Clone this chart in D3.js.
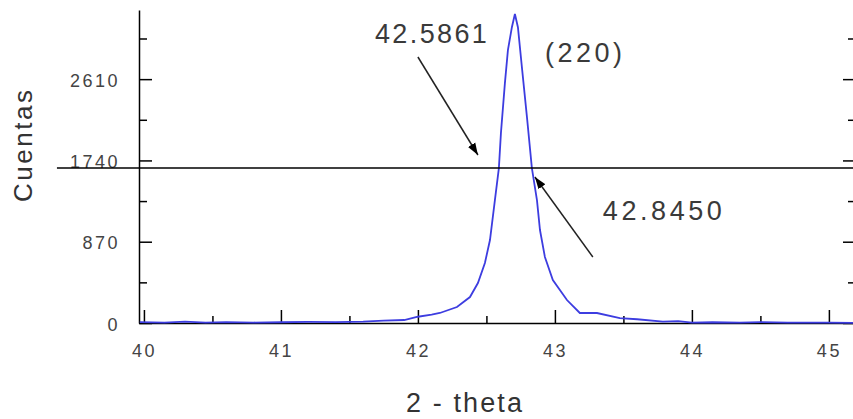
<!DOCTYPE html>
<html lang="es">
<head>
    <meta charset="UTF-8">
    <title>Pico (220) - FWHM</title>
    <script src="https://d3js.org/d3.v7.min.js"></script>
    <style>
        body {
            margin: 0;
            background: #fff;
            font-family: "Liberation Sans", Arial, sans-serif;
        }
        .tick text {
            fill: #444;
            font-size: 18px;
            letter-spacing: 2.5px;
        }
        .axis path, .axis line {
            stroke: #000;
            stroke-width: 1.5px;
        }
        .note {
            fill: #3a3a3a;
            font-size: 27px;
        }
    </style>
</head>
<body>
    <svg id="chart" width="853" height="419"></svg>
    <script>
        // difractograma alrededor del pico (220)
        const twoTheta = [39.97, 40.15, 40.3, 40.45, 40.6, 40.8, 41.0, 41.2, 41.4, 41.6, 41.75, 41.9,
            42.0, 42.1, 42.16, 42.285, 42.38, 42.438, 42.489, 42.526, 42.562, 42.591, 42.606,
            42.635, 42.657, 42.686, 42.708, 42.73, 42.759, 42.796, 42.832, 42.869, 42.891,
            42.927, 42.985, 43.088, 43.182, 43.307, 43.474, 43.6, 43.788, 43.9, 44.0, 44.15,
            44.35, 44.5, 44.7, 45.0, 45.2];
        const counts = [10, 5, 15, 5, 10, 5, 8, 12, 10, 15, 25, 32,
            67, 90, 107, 171, 278, 428, 642, 888, 1316, 1658, 2032,
            2567, 2920, 3166, 3307, 3166, 2738, 2203, 1658, 1316, 995,
            706, 460, 246, 107, 107, 53, 40, 15, 20, 5, 8,
            5, 10, 3, 5, 2];

        const yTicks = [0, 870, 1740, 2610];
        const yMinor = [435, 1305, 2175, 3045];
        const xTicks = [40, 41, 42, 43, 44, 45];
        const xMinor = [40.5, 41.5, 42.5, 43.5, 44.5];

        const halfMax = 1659;
        const leftWidth = 42.5861;
        const rightWidth = 42.8450;
        const peakLabel = "(220)";

        const svg = d3.select("#chart");
        const padL = 139, padB = 323, padT = 10, padR = 856;

        const x = d3.scaleLinear().domain([39.964, 45.176]).range([padL, 853]);
        const y = d3.scaleLinear().domain([0, 3350]).range([padB, padT]);

        // ejes
        svg.append("g").attr("class", "axis")
            .attr("transform", `translate(${padL},0)`)
            .call(d3.axisLeft(y).tickValues(yTicks).tickFormat(d3.format("d"))
                .tickSize(-13).tickPadding(19).tickSizeOuter(0))
            .call(g => g.selectAll(".tick text").attr("dy", "0.4em"));
        svg.append("g").attr("class", "axis")
            .attr("transform", `translate(${padL},0)`)
            .call(d3.axisLeft(y).tickValues(yMinor).tickSize(-8).tickFormat("").tickSizeOuter(0))
            .call(g => g.select(".domain").remove());

        svg.append("g").attr("class", "axis")
            .attr("transform", `translate(${padR},0)`)
            .call(d3.axisRight(y).tickValues(yTicks).tickSize(-13).tickFormat("").tickSizeOuter(0));
        svg.append("g").attr("class", "axis")
            .attr("transform", `translate(${padR},0)`)
            .call(d3.axisRight(y).tickValues(yMinor).tickSize(-8).tickFormat("").tickSizeOuter(0));

        svg.append("g").attr("class", "axis")
            .attr("transform", `translate(0,${padB})`)
            .call(d3.axisBottom(x).tickValues(xTicks).tickFormat(d3.format("d"))
                .tickSize(-13).tickPadding(21).tickSizeOuter(0))
            .call(g => g.select(".domain").attr("stroke-width", 2))
            .call(g => g.selectAll(".tick text").attr("dx", "0"));
        svg.append("g").attr("class", "axis")
            .attr("transform", `translate(0,${padB})`)
            .call(d3.axisBottom(x).tickValues(xMinor).tickSize(-7).tickFormat("").tickSizeOuter(0))
            .call(g => g.select(".domain").remove());

        // curva
        const line = d3.line().x((d, i) => x(twoTheta[i])).y(d => y(d));
        svg.append("path")
            .datum(counts)
            .attr("fill", "none")
            .attr("stroke", "#3d3de0")
            .attr("stroke-width", 1.8)
            .attr("d", line);

        // linea de media altura
        svg.append("line")
            .attr("x1", x(39.365)).attr("x2", x(45.2))
            .attr("y1", y(halfMax)).attr("y2", y(halfMax))
            .attr("stroke", "#000").attr("stroke-width", 1.5);

        // flechas
        svg.append("defs").append("marker")
            .attr("id", "head")
            .attr("viewBox", "0 0 10 10")
            .attr("refX", 10).attr("refY", 5)
            .attr("markerWidth", 12).attr("markerHeight", 12)
            .attr("markerUnits", "userSpaceOnUse")
            .attr("orient", "auto")
            .append("path").attr("d", "M0,1.5 L10,5 L0,8.5 Z").attr("fill", "#000");

        const arrows = [
            [42.0, 2847, 42.438, 1798],
            [43.277, 706, 42.854, 1563]
        ];
        svg.selectAll(".arrow").data(arrows).enter().append("line")
            .attr("class", "arrow")
            .attr("x1", d => x(d[0])).attr("y1", d => y(d[1]))
            .attr("x2", d => x(d[2])).attr("y2", d => y(d[3]))
            .attr("stroke", "#222").attr("stroke-width", 1.5)
            .attr("marker-end", "url(#head)");

        // textos
        svg.append("text").attr("class", "note")
            .attr("x", x(41.686)).attr("y", y(3000))
            .attr("textLength", 112).attr("lengthAdjust", "spacing")
            .text(leftWidth.toFixed(4));
        svg.append("text").attr("class", "note")
            .attr("x", x(42.927)).attr("y", y(2793))
            .attr("textLength", 77).attr("lengthAdjust", "spacing")
            .text(peakLabel);
        svg.append("text").attr("class", "note")
            .attr("x", x(43.35)).attr("y", y(1102))
            .attr("textLength", 119).attr("lengthAdjust", "spacing")
            .text(rightWidth.toFixed(4));

        svg.append("text")
            .attr("x", 464).attr("y", 412)
            .attr("text-anchor", "middle")
            .attr("fill", "#333").attr("font-size", 27)
            .attr("textLength", 116).attr("lengthAdjust", "spacing")
            .text("2 - theta");

        svg.append("text")
            .attr("transform", "translate(32,146) rotate(-90)")
            .attr("text-anchor", "middle")
            .attr("fill", "#333").attr("font-size", 26)
            .attr("textLength", 112).attr("lengthAdjust", "spacing")
            .text("Cuentas");
    </script>
</body>
</html>
